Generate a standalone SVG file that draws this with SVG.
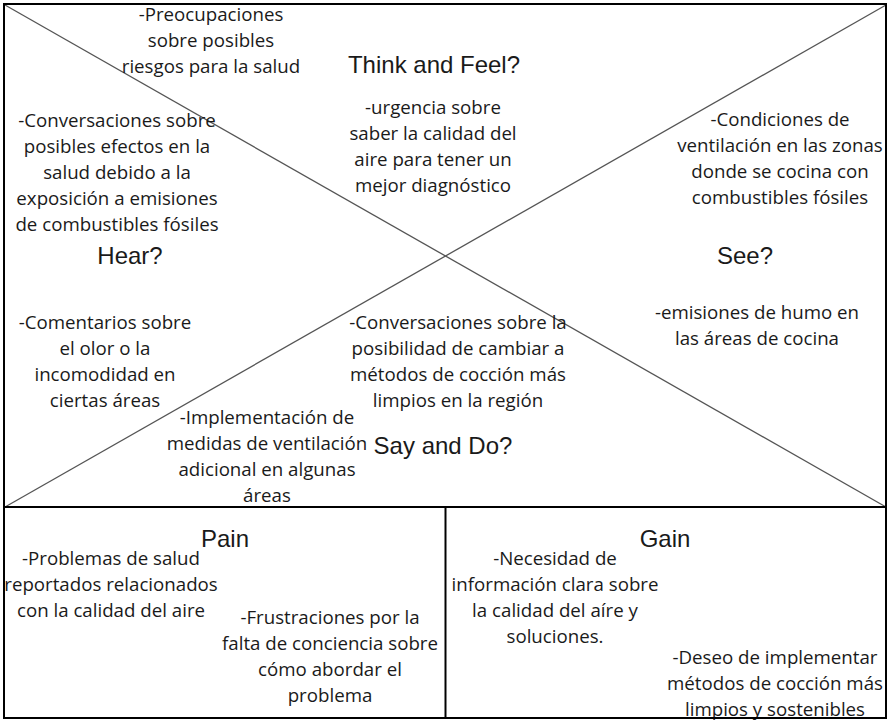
<svg xmlns="http://www.w3.org/2000/svg" width="891" height="721" viewBox="0 0 891 721">
<style>
.b{font-family:"Open Sans","Liberation Sans",sans-serif;font-size:18.7px;fill:#1a1a1a;text-anchor:middle}
.t{font-family:"Liberation Sans",Arial,sans-serif;font-size:24px;fill:#1a1a1a;text-anchor:middle}
.frame{fill:none;stroke:#000;stroke-width:2}
.diag{stroke:#555;stroke-width:1.3;fill:none}
</style>
<rect x="0" y="0" width="891" height="721" fill="#fff"/>
<g id="connectors">
<line class="diag" x1="5" y1="5" x2="886" y2="507"/>
<line class="diag" x1="5" y1="507" x2="886" y2="5"/>
</g>
<g id="think-feel">
<text class="t" x="434" y="73">Think and Feel?</text>
<text class="b" x="211" y="21"><tspan x="211">-Preocupaciones</tspan><tspan x="211" dy="26">sobre posibles</tspan><tspan x="211" dy="26">riesgos para la salud</tspan></text>
<text class="b" x="433" y="114"><tspan x="433">-urgencia sobre</tspan><tspan x="433" dy="26">saber la calidad del</tspan><tspan x="433" dy="26">aire para tener un</tspan><tspan x="433" dy="26">mejor diagnóstico</tspan></text>
</g>
<g id="hear">
<text class="t" x="130" y="264">Hear?</text>
<text class="b" x="117" y="127"><tspan x="117">-Conversaciones sobre</tspan><tspan x="117" dy="26">posibles efectos en la</tspan><tspan x="117" dy="26">salud debido a la</tspan><tspan x="117" dy="26">exposición a emisiones</tspan><tspan x="117" dy="26">de combustibles fósiles</tspan></text>
<text class="b" x="105" y="329"><tspan x="105">-Comentarios sobre</tspan><tspan x="105" dy="26">el olor o la</tspan><tspan x="105" dy="26">incomodidad en</tspan><tspan x="105" dy="26">ciertas áreas</tspan></text>
</g>
<g id="see">
<text class="t" x="745" y="264">See?</text>
<text class="b" x="780" y="126"><tspan x="780">-Condiciones de</tspan><tspan x="780" dy="26">ventilación en las zonas</tspan><tspan x="780" dy="26">donde se cocina con</tspan><tspan x="780" dy="26">combustibles fósiles</tspan></text>
<text class="b" x="757" y="319"><tspan x="757">-emisiones de humo en</tspan><tspan x="757" dy="26">las áreas de cocina</tspan></text>
</g>
<g id="say-do">
<text class="t" x="443" y="454">Say and Do?</text>
<text class="b" x="458" y="329"><tspan x="458">-Conversaciones sobre la</tspan><tspan x="458" dy="26">posibilidad de cambiar a</tspan><tspan x="458" dy="26">métodos de cocción más</tspan><tspan x="458" dy="26">limpios en la región</tspan></text>
<text class="b" x="267" y="424"><tspan x="267">-Implementación de</tspan><tspan x="267" dy="26">medidas de ventilación</tspan><tspan x="267" dy="26">adicional en algunas</tspan><tspan x="267" dy="26">áreas</tspan></text>
</g>
<g id="pain">
<text class="t" x="225" y="547">Pain</text>
<text class="b" x="111" y="565"><tspan x="111">-Problemas de salud</tspan><tspan x="111" dy="26">reportados relacionados</tspan><tspan x="111" dy="26">con la calidad del aire</tspan></text>
<text class="b" x="330" y="624"><tspan x="330">-Frustraciones por la</tspan><tspan x="330" dy="26">falta de conciencia sobre</tspan><tspan x="330" dy="26">cómo abordar el</tspan><tspan x="330" dy="26">problema</tspan></text>
</g>
<g id="gain">
<text class="t" x="665" y="547">Gain</text>
<text class="b" x="555" y="565"><tspan x="555">-Necesidad de</tspan><tspan x="555" dy="26">información clara sobre</tspan><tspan x="555" dy="26">la calidad del aíre y</tspan><tspan x="555" dy="26">soluciones.</tspan></text>
<text class="b" x="775" y="664"><tspan x="775">-Deseo de implementar</tspan><tspan x="775" dy="26">métodos de cocción más</tspan><tspan x="775" dy="26">limpios y sostenibles</tspan></text>
</g>
<g id="frame">
<rect class="frame" x="4" y="4" width="882" height="503"/>
<rect class="frame" x="4" y="507" width="882" height="211"/>
<line class="frame" x1="445.5" y1="507" x2="445.5" y2="718"/>
</g>
</svg>
